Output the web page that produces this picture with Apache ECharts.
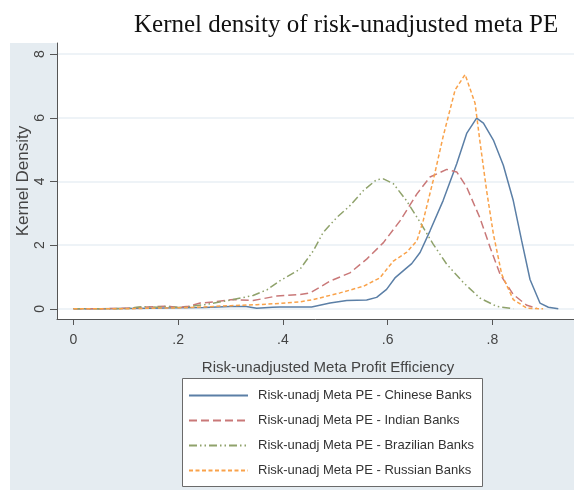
<!DOCTYPE html>
<html>
<head>
<meta charset="utf-8">
<script src="https://cdn.jsdelivr.net/npm/echarts@6/dist/echarts.min.js"></script>
<style>html,body{margin:0;padding:0;background:#fff;}#c{width:574px;height:490px;}</style>
</head>
<body>
<div id="c"></div>
<script>
const titleText = 'Kernel density of risk-unadjusted meta PE';
const xAxisTitle = 'Risk-unadjusted Meta Profit Efficiency';
const yAxisTitle = 'Kernel Density';
const xTicks = [0, 0.2, 0.4, 0.6, 0.8];
const xTickLabels = ['0', '.2', '.4', '.6', '.8'];
const yTicks = [0, 2, 4, 6, 8];
const yTickLabels = ['0', '2', '4', '6', '8'];
const seriesNames = [
  'Risk-unadj Meta PE - Chinese Banks',
  'Risk-unadj Meta PE - Indian Banks',
  'Risk-unadj Meta PE - Brazilian Banks',
  'Risk-unadj Meta PE - Russian Banks'
];
const chinese = [[0,0],[0.05,0],[0.1,0.01],[0.15,0.02],[0.2,0.03],[0.25,0.04],[0.3,0.07],[0.33,0.07],[0.35,0.02],[0.38,0.05],[0.394,0.06],[0.455,0.06],[0.49,0.18],[0.522,0.26],[0.56,0.28],[0.579,0.36],[0.598,0.61],[0.614,0.97],[0.633,1.24],[0.646,1.42],[0.662,1.77],[0.681,2.45],[0.706,3.40],[0.732,4.56],[0.751,5.51],[0.770,5.99],[0.783,5.83],[0.802,5.30],[0.821,4.51],[0.840,3.40],[0.856,2.14],[0.872,0.92],[0.891,0.18],[0.907,0.05],[0.926,0.0]];
const indian = [[0,0],[0.05,0],[0.1,0.02],[0.14,0.06],[0.18,0.08],[0.2,0.05],[0.22,0.08],[0.242,0.18],[0.27,0.22],[0.305,0.29],[0.343,0.26],[0.388,0.40],[0.433,0.45],[0.452,0.50],[0.49,0.87],[0.528,1.13],[0.56,1.56],[0.592,2.08],[0.624,2.77],[0.656,3.61],[0.681,4.14],[0.713,4.38],[0.732,4.30],[0.751,3.82],[0.776,2.87],[0.796,1.92],[0.815,1.08],[0.840,0.45],[0.866,0.11],[0.885,0.02]];
const brazilian = [[0,0],[0.05,0],[0.1,0.01],[0.133,0.07],[0.16,0.05],[0.18,0.08],[0.2,0.04],[0.216,0.06],[0.254,0.14],[0.305,0.29],[0.343,0.42],[0.37,0.6],[0.394,0.88],[0.433,1.25],[0.458,1.82],[0.477,2.40],[0.503,2.87],[0.528,3.24],[0.554,3.72],[0.579,4.06],[0.592,4.08],[0.611,3.93],[0.636,3.40],[0.662,2.72],[0.687,2.03],[0.713,1.40],[0.745,0.82],[0.776,0.34],[0.808,0.08],[0.84,0.0]];
const russian = [[0,0],[0.05,0],[0.1,0],[0.15,0.02],[0.2,0.03],[0.25,0.06],[0.3,0.1],[0.35,0.13],[0.394,0.17],[0.433,0.22],[0.458,0.29],[0.509,0.50],[0.554,0.71],[0.585,0.97],[0.611,1.50],[0.636,1.77],[0.656,2.14],[0.668,2.77],[0.687,4.03],[0.706,5.41],[0.729,6.88],[0.748,7.36],[0.767,6.46],[0.776,5.30],[0.789,3.72],[0.802,2.35],[0.818,1.08],[0.840,0.29],[0.866,0.02],[0.897,0]];

const seriesData = [chinese, indian, brazilian, russian];
const colors = ['#5b7fa6', '#c97878', '#8fa26b', '#f9a24a'];
const dashes = ['solid', [8, 4], [8, 3, 1.5, 3, 1.5, 3], [4, 2.5]];

function lookup(ticks, labels, v) {
  const i = ticks.findIndex(t => Math.abs(t - v) < 1e-6);
  return i >= 0 ? labels[i] : '';
}

const chart = echarts.init(document.getElementById('c'), null, {renderer: 'canvas'});
const font = '"Liberation Sans", Arial, sans-serif';
chart.setOption({
  animation: false,
  backgroundColor: '#fff',
  title: {
    text: titleText,
    left: 129,
    top: 8,
    textStyle: {fontFamily: '"Liberation Serif", "Times New Roman", serif', fontSize: 25, fontWeight: 'normal', color: '#111'}
  },
  graphic: [
    {type: 'rect', left: 10, top: 43, shape: {width: 564, height: 447}, style: {fill: '#e5ecf1'}, z: -10, silent: true},
    {type: 'rect', left: 182, top: 378, shape: {width: 300, height: 108}, style: {fill: '#fff', stroke: '#6a6a6a', lineWidth: 1}, z: 5, silent: true}
  ],
  grid: {left: 57, right: 0, top: 43, bottom: 171, show: true, backgroundColor: '#fff', borderWidth: 0},
  legend: {
    orient: 'vertical',
    left: 182,
    top: 382,
    padding: [6, 6, 6, 6],
    itemWidth: 59,
    itemHeight: 14,
    itemGap: 10,
    z: 10,
    itemStyle: {opacity: 0},
    textStyle: {fontFamily: font, fontSize: 13, color: '#333', padding: [0, 0, 0, 5], lineHeight: 15},
    data: seriesNames
  },
  xAxis: {
    type: 'value',
    min: -0.0315,
    max: 0.956,
    name: xAxisTitle,
    nameLocation: 'middle',
    nameGap: 41,
    nameMoveOverlap: false,
    nameTextStyle: {fontFamily: font, fontSize: 15, color: '#444', padding: [0, 0, 0, 25]},
    axisLine: {show: true, onZero: false, lineStyle: {color: '#555', width: 1}},
    axisTick: {show: true, length: 6, lineStyle: {color: '#555'}, customValues: xTicks},
    axisLabel: {fontFamily: font, fontSize: 14, color: '#444', margin: 14, customValues: xTicks,
      formatter: v => lookup(xTicks, xTickLabels, v)},
    splitLine: {show: false}
  },
  yAxis: {
    type: 'value',
    min: -0.32,
    max: 8.35,
    name: yAxisTitle,
    nameLocation: 'middle',
    nameGap: 25,
    nameMoveOverlap: false,
    nameTextStyle: {fontFamily: font, fontSize: 17, color: '#444'},
    axisLine: {show: true, onZero: false, lineStyle: {color: '#555', width: 1}},
    axisTick: {show: true, length: 7, lineStyle: {color: '#555'}, customValues: yTicks},
    axisLabel: {fontFamily: font, fontSize: 14, color: '#444', margin: 10, rotate: 90, customValues: yTicks,
      formatter: v => lookup(yTicks, yTickLabels, v)},
    splitLine: {show: true, lineStyle: {color: '#e8eff4', width: 1.5}}
  },
  series: seriesNames.map((n, i) => ({
    name: n,
    type: 'line',
    data: seriesData[i],
    symbol: 'none',
    smooth: false,
    color: colors[i],
    lineStyle: {color: colors[i], width: 1.5, type: dashes[i]},
    z: 3
  }))
});
</script>
</body>
</html>
